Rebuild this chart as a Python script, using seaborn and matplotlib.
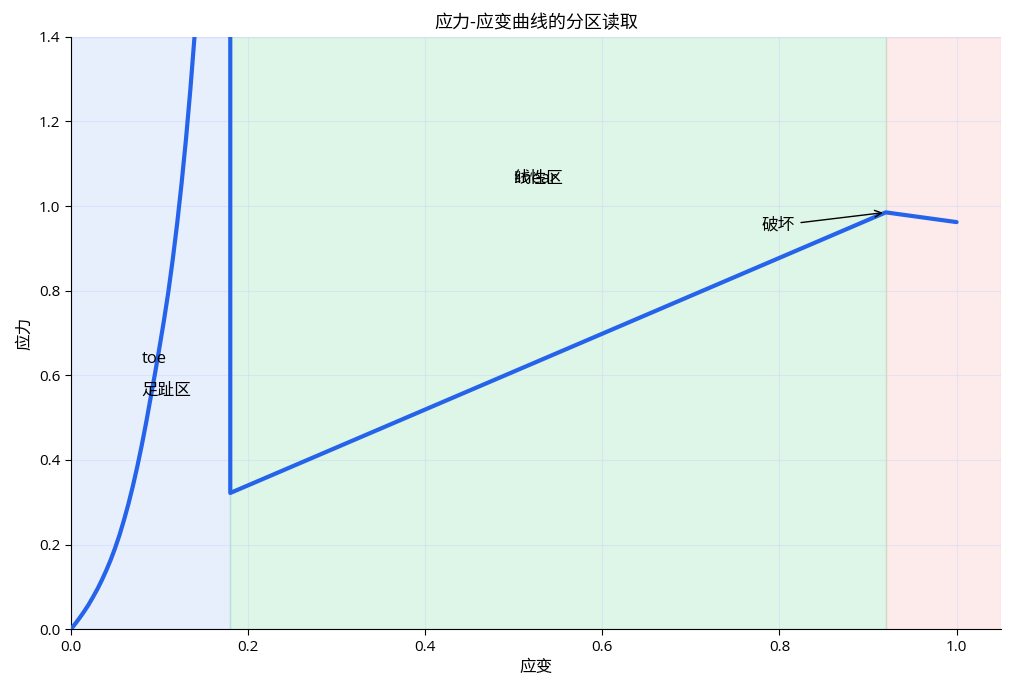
import pandas as pd
import matplotlib
matplotlib.use('Agg')
import matplotlib.pyplot as plt
import seaborn as sns

# strain / stress samples (toe part, then the linear part and failure)
strain = [0.000, 0.005, 0.010, 0.015, 0.020, 0.025, 0.030, 0.035, 0.040, 0.045,
          0.050, 0.055, 0.060, 0.065, 0.070, 0.075, 0.080, 0.085, 0.090, 0.095,
          0.100, 0.105, 0.110, 0.115, 0.120, 0.125, 0.130, 0.135, 0.140, 0.145,
          0.150, 0.160, 0.170, 0.180,
          0.180, 0.920, 1.000]
stress = [0.000, 0.013, 0.027, 0.042, 0.058, 0.076, 0.095, 0.116, 0.139, 0.164,
          0.192, 0.223, 0.258, 0.296, 0.338, 0.384, 0.434, 0.488, 0.546, 0.604,
          0.665, 0.728, 0.796, 0.873, 0.958, 1.053, 1.158, 1.277, 1.410, 1.550,
          1.700, 2.050, 2.450, 2.900,
          0.322, 0.985, 0.962]

# zones: (start, end), colour, alpha
zone_bounds = [(0.0, 0.18), (0.18, 0.92), (0.92, 1.05)]
zone_colors = ['#3b82f6', '#22c55e', '#ef4444']
zone_alpha = [0.12, 0.15, 0.10]

sns.set_style('white')
plt.rcParams['font.family'] = ['Open Sans', 'Noto Sans CJK SC', 'DejaVu Sans']
plt.rcParams['axes.unicode_minus'] = False
for key in ['text.color', 'axes.labelcolor', 'xtick.color', 'ytick.color', 'axes.edgecolor']:
    plt.rcParams[key] = 'black'

df = pd.DataFrame({'strain': strain, 'stress': stress})

fig, ax = plt.subplots(figsize=(10.12, 6.93), dpi=100)
fig.subplots_adjust(left=0.070, right=0.989, top=0.947, bottom=0.092)

for (a, b), c, al in zip(zone_bounds, zone_colors, zone_alpha):
    ax.axvspan(a, b, color=c, alpha=al, zorder=0)

sns.lineplot(data=df, x='strain', y='stress', sort=False, estimator=None,
             color='#2563eb', linewidth=3, ax=ax, zorder=3)

ax.text(0.08, 0.62, 'toe', fontsize=12, va='bottom')
ax.text(0.08, 0.545, '足趾区', fontsize=12, va='bottom')
ax.text(0.50, 1.045, 'linear', fontsize=12, va='bottom')
ax.text(0.50, 1.045, '线性区', fontsize=12, va='bottom')
ax.annotate('破坏', xy=(0.92, 0.985), xytext=(0.78, 0.945), fontsize=12,
            arrowprops=dict(arrowstyle='->', color='black', lw=1))

ax.set_xlim(0, 1.05)
ax.set_ylim(0, 1.4)
ax.grid(True, color='#c7d2fe', alpha=0.4, linewidth=0.8)
ax.set_axisbelow(True)
sns.despine(ax=ax)
ax.tick_params(axis='both', direction='out', length=4, labelsize=11, left=True, bottom=True)
ax.set_xlabel('应变', fontsize=12)
ax.set_ylabel('应力', fontsize=12)
ax.set_title('应力-应变曲线的分区读取', fontsize=13)

fig.savefig('out.png', dpi=100)
